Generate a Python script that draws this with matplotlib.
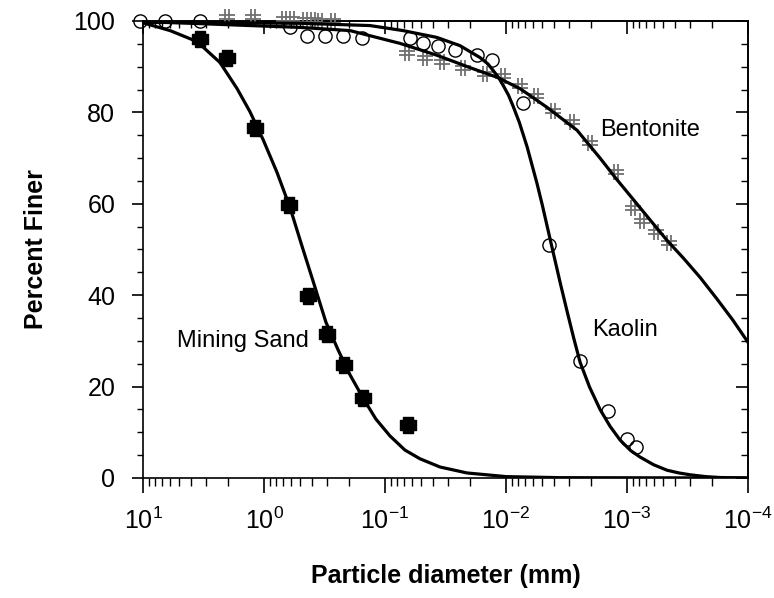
import matplotlib
matplotlib.use("Agg")
import matplotlib.pyplot as plt
from matplotlib.path import Path
from matplotlib.ticker import LogLocator, MultipleLocator, NullFormatter

plt.rcParams['font.family'] = ['Liberation Sans', 'DejaVu Sans']

# measured grain sizes (mm) and percent finer
sand_d = [3.38, 2.02, 1.19, 0.62, 0.433, 0.301, 0.218, 0.152, 0.0646]
sand_p = [96.0, 92.0, 76.5, 59.7, 39.8, 31.5, 24.7, 17.5, 11.6]

kaolin_d = [10.6, 6.58, 3.38, 0.61, 0.441, 0.313, 0.222, 0.155, 0.0621, 0.0485,
            0.0365, 0.0264, 0.0174, 0.0131, 0.00724, 0.00441, 0.00244, 0.00144,
            0.0010, 0.000843]
kaolin_p = [100.0, 100.0, 100.0, 98.6, 96.8, 96.8, 96.8, 96.2, 96.2, 95.1,
            94.6, 93.6, 92.5, 91.4, 82.0, 50.9, 25.6, 14.6, 8.5, 6.8]

bent_d = [2.02, 1.23, 0.684, 0.587, 0.459, 0.394, 0.344, 0.269, 0.0658, 0.0467,
          0.0338, 0.0227, 0.0149, 0.0106, 0.00766, 0.00565, 0.00409, 0.00285,
          0.00202, 0.00123, 0.000891, 0.000751, 0.000575, 0.000450]
bent_p = [100.8, 100.8, 100.5, 100.5, 100.3, 100.3, 100.1, 100.1, 92.9, 92.0,
          91.1, 89.8, 88.5, 87.9, 85.7, 83.5, 80.2, 77.8, 73.4, 66.9,
          59.0, 56.2, 53.8, 51.4]

# fitted gradation curves
sand_fit_d = [10, 5.98, 3.58, 2.31, 1.67, 1.31, 1.02, 0.782, 0.610, 0.485,
              0.386, 0.308, 0.244, 0.195, 0.152, 0.119, 0.0910, 0.0684,
              0.0514, 0.0351, 0.0210, 0.0100, 0.00358, 0.0001]
sand_fit_p = [99.6, 97.9, 95.5, 90.9, 85.2, 80.2, 74.1, 66.9, 59.2, 50.7,
              42.4, 34.1, 28.0, 22.6, 17.5, 12.9, 9.2, 6.1,
              4.2, 2.4, 1.1, 0.3, 0.07, 0.0]

kaolin_fit_d = [10, 0.501, 0.133, 0.0710, 0.0372, 0.0240, 0.0164, 0.0141,
                0.0128, 0.0115, 0.0106, 0.00955, 0.00875, 0.00776, 0.00670,
                0.00555, 0.00501, 0.00417, 0.00355, 0.00313, 0.00275, 0.00244,
                0.00204, 0.00167, 0.00138, 0.00114, 0.000933, 0.000782,
                0.000603, 0.000467, 0.000372, 0.000301, 0.000224, 0.000170,
                0.0001]
kaolin_fit_p = [99.7, 99.5, 99.0, 97.9, 96.4, 94.6, 92.0, 90.6,
                89.2, 87.6, 86.0, 83.8, 81.4, 77.8, 72.5,
                64.5, 59.7, 50.5, 42.5, 36.5, 30.5, 25.3,
                19.9, 15.0, 11.3, 8.3, 6.0, 4.6,
                2.9, 1.7, 1.1, 0.7, 0.3, 0.1,
                0.0]

bent_fit_d = [10, 1.31, 0.504, 0.195, 0.0752, 0.0372, 0.0199, 0.0119, 0.00766,
              0.00458, 0.00259, 0.00167, 0.00123, 0.000891, 0.000646,
              0.000467, 0.000339, 0.000249, 0.000182, 0.000133, 0.0001]
bent_fit_p = [99.9, 99.0, 98.6, 97.9, 95.1, 92.5, 89.8, 87.7, 85.2,
              81.1, 76.1, 70.0, 65.5, 61.0, 56.5,
              52.0, 48.0, 43.9, 39.3, 34.5, 29.7]

# marker shapes: fat cross for sand, double-line hash for bentonite
fat_cross = Path([(-0.3, -0.5), (0.3, -0.5), (0.3, -0.3), (0.5, -0.3), (0.5, 0.3),
                  (0.3, 0.3), (0.3, 0.5), (-0.3, 0.5), (-0.3, 0.3), (-0.5, 0.3),
                  (-0.5, -0.3), (-0.3, -0.3), (-0.3, -0.5)])
hash_mark = Path([(-0.15, -0.5), (-0.15, 0.5), (0.15, -0.5), (0.15, 0.5),
                  (-0.5, -0.15), (0.5, -0.15), (-0.5, 0.15), (0.5, 0.15)],
                 [Path.MOVETO, Path.LINETO] * 4)

fig = plt.figure(figsize=(7.74, 5.98), dpi=100)
ax = fig.add_axes([0.1848, 0.2007, 0.7816, 0.7642])

ax.plot(sand_d, sand_p, linestyle='none', marker=fat_cross, ms=12,
        mfc='black', mec='black', clip_on=False, zorder=3)
ax.plot(kaolin_d, kaolin_p, linestyle='none', marker='o', ms=9.5,
        mfc='none', mec='black', mew=1.0, clip_on=False, zorder=3)
ax.plot(bent_d, bent_p, linestyle='none', marker=hash_mark, ms=11,
        mec='#707070', mew=1.3, clip_on=False, zorder=3)

for d, p in [(sand_fit_d, sand_fit_p), (kaolin_fit_d, kaolin_fit_p),
             (bent_fit_d, bent_fit_p)]:
    ax.plot(d, p, color='black', lw=2.3, solid_joinstyle='round', zorder=4)

ax.text(5.24, 29.9, 'Mining Sand', fontsize=17, va='center', ha='left')
ax.text(0.00195, 32.3, 'Kaolin', fontsize=17, va='center', ha='left')
ax.text(0.00167, 76.1, 'Bentonite', fontsize=17, va='center', ha='left')

ax.set_xscale('log')
ax.set_xlim(10, 1e-4)
ax.set_ylim(0, 100)
ax.xaxis.set_major_locator(LogLocator(base=10, numticks=10))
ax.xaxis.set_minor_locator(LogLocator(base=10, subs=range(2, 10), numticks=20))
ax.xaxis.set_minor_formatter(NullFormatter())
ax.yaxis.set_major_locator(MultipleLocator(20))
ax.yaxis.set_minor_locator(MultipleLocator(5))

for s in ax.spines.values():
    s.set_linewidth(1.2)

ax.tick_params(axis='x', which='major', direction='out', length=11, width=1.2,
               labelsize=18, pad=10)
ax.tick_params(axis='x', which='minor', direction='out', length=6, width=1.0)
ax.tick_params(axis='y', which='major', direction='out', length=8, width=1.2,
               labelsize=18, pad=12)
ax.tick_params(axis='y', which='minor', direction='out', length=4.5, width=1.0)

# inward ticks on the top and right sides
top = ax.secondary_xaxis('top')
top.xaxis.set_major_locator(LogLocator(base=10, numticks=10))
top.xaxis.set_minor_locator(LogLocator(base=10, subs=range(2, 10), numticks=20))
top.xaxis.set_major_formatter(NullFormatter())
top.xaxis.set_minor_formatter(NullFormatter())
top.tick_params(which='major', direction='in', length=9, width=1.2)
top.tick_params(which='minor', direction='in', length=5, width=1.0)
top.spines['top'].set_linewidth(1.2)

right = ax.secondary_yaxis('right')
right.yaxis.set_major_locator(MultipleLocator(20))
right.yaxis.set_minor_locator(MultipleLocator(5))
right.yaxis.set_major_formatter(NullFormatter())
right.tick_params(which='major', direction='in', length=9, width=1.2)
right.tick_params(which='minor', direction='in', length=5, width=1.0)
right.spines['right'].set_linewidth(1.2)

ax.set_xlabel('Particle diameter (mm)', fontsize=18, fontweight='bold', labelpad=22)
ax.set_ylabel('Percent Finer', fontsize=18, fontweight='bold', labelpad=18)

fig.savefig('out.png', dpi=100)
